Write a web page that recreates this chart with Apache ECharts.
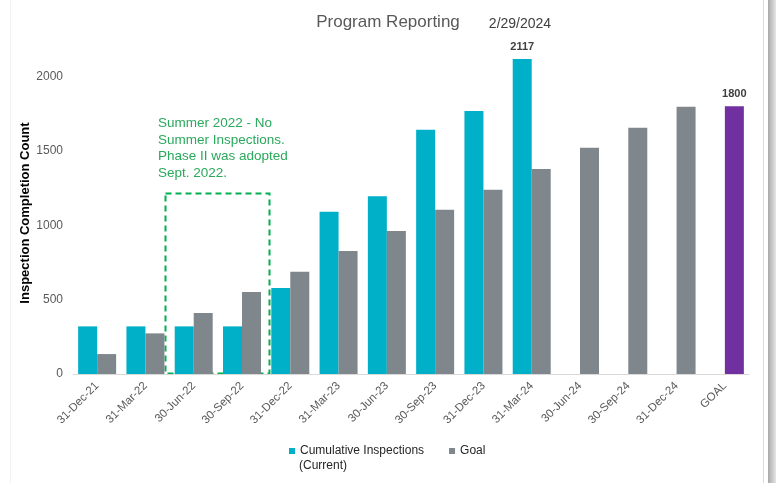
<!DOCTYPE html>
<html>
<head>
<meta charset="utf-8">
<script src="https://cdn.jsdelivr.net/npm/echarts@6/dist/echarts.min.js"></script>
<style>html,body{margin:0;padding:0;background:#fff;}#c{width:776px;height:483px;}</style>
</head>
<body>
<div id="c"></div>
<script>
const categories = ['31-Dec-21','31-Mar-22','30-Jun-22','30-Sep-22','31-Dec-22','31-Mar-23','30-Jun-23','30-Sep-23','31-Dec-23','31-Mar-24','30-Jun-24','30-Sep-24','31-Dec-24','GOAL'];
const cumulative = [320, 320, 320, 320, 578, 1091, 1194, 1641, 1767, 2117, null, null, null, null];
const goal = [134, 273, 410, 551, 687, 827, 961, 1104, 1239, 1378, 1521, 1655, 1796, 1800];
const yTicks = [0, 500, 1000, 1500, 2000];
const labelCumIndex = 9;
const labelGoalIndex = 13;

const CYAN = '#00afc8', GRAY = '#7f868c', PURPLE = '#7030a0';
const FONT = 'Liberation Sans, Arial, sans-serif';
const labelStyle = {show: true, position: 'top', distance: 7, color: '#404040', fontSize: 11, fontWeight: 'bold', fontFamily: FONT};

const cumData = cumulative.map((v, i) => i === labelCumIndex ? {value: v, label: labelStyle} : v);
const goalData = goal.map((v, i) => i === labelGoalIndex ? {value: v, itemStyle: {color: PURPLE}, label: labelStyle} : v);

const chart = echarts.init(document.getElementById('c'), null, {renderer: 'canvas'});
chart.setOption({
  animation: false,
  backgroundColor: '#fff',
  textStyle: {fontFamily: FONT},
  title: {
    text: 'Program Reporting', left: 'center', top: 9,
    textStyle: {fontSize: 17, fontWeight: 'normal', color: '#595959', fontFamily: FONT}
  },
  grid: {left: 73, right: 27, top: 2, bottom: 109, containLabel: false},
  legend: {
    left: 289, top: 445, padding: 0, itemWidth: 6, itemHeight: 6, itemGap: 25,
    icon: 'rect',
    data: ['Cumulative Inspections (Current)', 'Goal'],
    formatter: n => n === 'Cumulative Inspections (Current)' ? 'Cumulative Inspections' : n,
    textStyle: {fontSize: 12, color: '#262626', fontFamily: FONT}
  },
  xAxis: {
    type: 'category', data: categories,
    axisLine: {lineStyle: {color: '#d9d9d9', width: 1}},
    axisTick: {show: false},
    axisLabel: {rotate: 45, fontSize: 11.5, color: '#595959', margin: 10, interval: 0}
  },
  yAxis: {
    type: 'value', min: 0, max: 2500, interval: 500,
    splitLine: {show: false}, axisLine: {show: false}, axisTick: {show: false},
    axisLabel: {showMaxLabel: false, fontSize: 12, color: '#595959', margin: 10,
      formatter: v => yTicks.indexOf(v) >= 0 ? String(v) : ''}
  },
  series: [
    {name: 'Cumulative Inspections (Current)', type: 'bar', data: cumData, barWidth: 19, barGap: '0%', itemStyle: {color: CYAN}},
    {name: 'Goal', type: 'bar', data: goalData, barWidth: 19, barGap: '0%', itemStyle: {color: GRAY}}
  ],
  graphic: [
    {type: 'line', shape: {x1: 10.5, y1: 0, x2: 10.5, y2: 483}, style: {stroke: '#f3f3f3', lineWidth: 1}, silent: true},
    {type: 'line', shape: {x1: 763.5, y1: 0, x2: 763.5, y2: 483}, style: {stroke: '#d9d9d9', lineWidth: 1}, silent: true},
    {type: 'rect', shape: {x: 768, y: 0, width: 8, height: 483},
      style: {fill: new echarts.graphic.LinearGradient(0, 0, 1, 0, [{offset: 0, color: '#a8a8a8'}, {offset: 1, color: '#e6e6e6'}])}, silent: true},
    {type: 'text', x: 520, y: 24, style: {text: '2/29/2024', fontSize: 14, fill: '#404040', align: 'center', verticalAlign: 'middle', fontFamily: FONT}},
    {type: 'text', x: 25, y: 213, rotation: Math.PI / 2, style: {text: 'Inspection Completion Count', fontSize: 13, fontWeight: 'bold', fill: '#000', align: 'center', verticalAlign: 'middle', fontFamily: FONT}},
    {type: 'text', x: 299, y: 466, style: {text: '(Current)', fontSize: 12, fill: '#262626', align: 'left', verticalAlign: 'middle', fontFamily: FONT}},
    {type: 'text', x: 158, y: 115, style: {text: 'Summer 2022 - No\nSummer Inspections.\nPhase II was adopted\nSept. 2022.', fontSize: 13.5, lineHeight: 16.7, fill: '#2aa85c', align: 'left', verticalAlign: 'top', fontFamily: FONT}},
    {type: 'rect', shape: {x: 165.5, y: 193.5, width: 104, height: 180}, style: {fill: 'none', stroke: '#00b050', lineWidth: 2, lineDash: [6, 4]}}
  ]
});
</script>
</body>
</html>
